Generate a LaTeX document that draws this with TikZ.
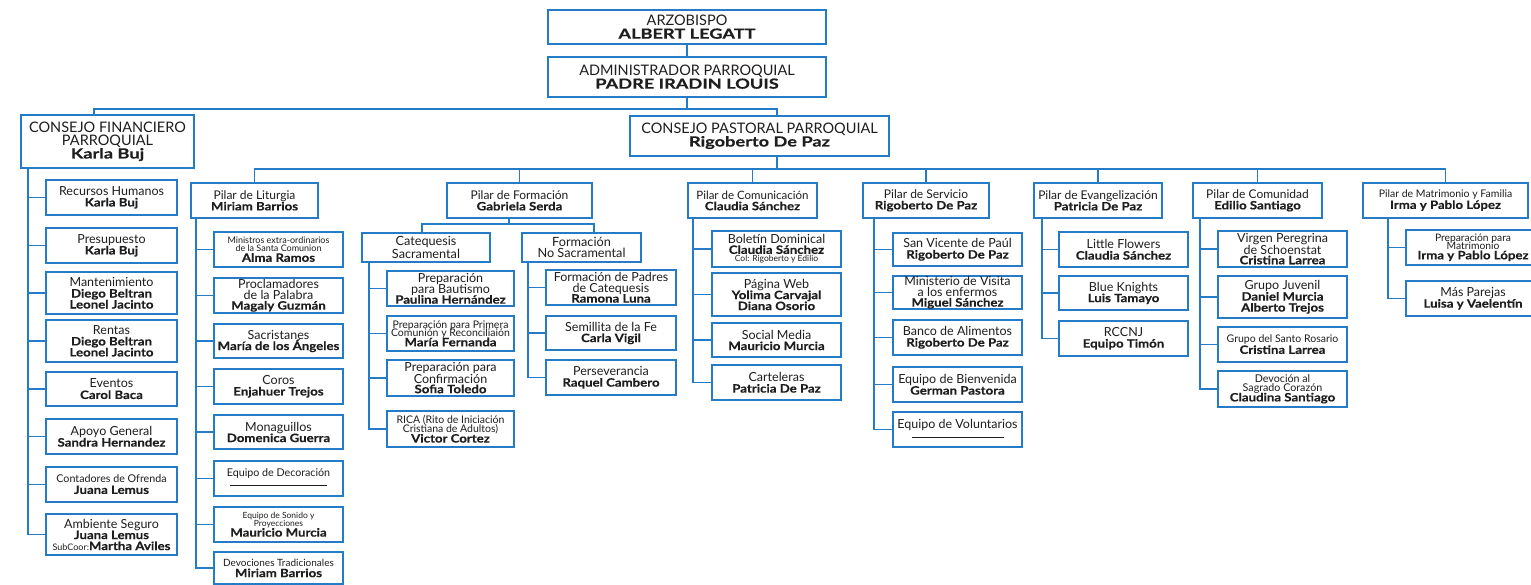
\documentclass[tikz,border=0pt]{standalone}
\usepackage{fontspec}
\setmainfont{Lato}
\newfontfamily\namefont{Lato}[FakeStretch=1.15,FakeBold=0.4]
\newfontfamily\topnamefont{Lato}[FakeStretch=1.3,FakeBold=0.4]
\definecolor{orgblue}{RGB}{36,124,200}
\definecolor{orgtext}{RGB}{30,30,30}
\newcommand{\sz}[1]{\fontsize{#1}{#1}\selectfont}
\newcommand{\nm}[1]{{\fontsize{11.5}{11}\namefont\bfseries #1}}
\newcommand{\tnm}[1]{{\fontsize{14}{13}\topnamefont\bfseries #1}}

\begin{document}
\begin{tikzpicture}[x=1pt,y=-1pt,
  box node/.style={draw=orgblue,line width=1.8pt,fill=white,text=orgtext,align=center,
    inner sep=0.5pt,font=\fontsize{12.5}{11}\selectfont},
  top node/.style={box node,font=\fontsize{14.5}{13}\selectfont},
  pilar node/.style={box node,minimum height=35,font=\fontsize{12}{11}\selectfont},
  conn/.style={draw=orgblue,line width=1.8pt}]

  \useasboundingbox (0,0) rectangle (1531,585);

  % top of the chart
  \node[top node,minimum width=278,minimum height=34] (arz) at (687,27) {ARZOBISPO\\\tnm{ALBERT LEGATT}};
  \node[top node,minimum width=278,minimum height=40] (adm) at (687,77) {ADMINISTRADOR PARROQUIAL\\\tnm{PADRE IRADIN LOUIS}};
  \node[top node,minimum width=173,minimum height=53] (cfin) at (107.5,141.5) {CONSEJO FINANCIERO\\PARROQUIAL\\\tnm{Karla Buj}};
  \node[top node,minimum width=259,minimum height=40] (cpas) at (759.5,136) {CONSEJO PASTORAL PARROQUIAL\\\tnm{Rigoberto De Paz}};

  % consejo financiero
  \node[box node,minimum width=131,minimum height=35] (rh) at (111.5,197.5) {Recursos Humanos\\\nm{Karla Buj}};
  \node[box node,minimum width=131,minimum height=35] (pre) at (111.5,245.5) {Presupuesto\\\nm{Karla Buj}};
  \node[box node,minimum width=131,minimum height=42] (man) at (111.5,293) {Mantenimiento\\\nm{Diego Beltran}\\\nm{Leonel Jacinto}};
  \node[box node,minimum width=131,minimum height=42] (ren) at (111.5,341) {Rentas\\\nm{Diego Beltran}\\\nm{Leonel Jacinto}};
  \node[box node,minimum width=131,minimum height=34] (eve) at (111.5,389) {Eventos\\\nm{Carol Baca}};
  \node[box node,minimum width=131,minimum height=35] (apo) at (111.5,436.5) {Apoyo General\\\nm{Sandra Hernandez}};
  \node[box node,minimum width=131,minimum height=35] (con) at (111.5,484.5) {{\sz{10.7}Contadores de Ofrenda}\\\nm{Juana Lemus}};
  \node[box node,minimum width=131,minimum height=41] (amb) at (111.5,534.5) {Ambiente Seguro\\\nm{Juana Lemus}\\{\sz{9}SubCoor:}\nm{Martha Aviles}};

  % pilares
  \node[pilar node,minimum width=127] (lit) at (254.5,200.5) {Pilar de Liturgia\\\nm{Miriam Barrios}};
  \node[pilar node,minimum width=145] (for) at (519.5,200.5) {Pilar de Formación\\\nm{Gabriela Serda}};
  \node[pilar node,minimum width=129] (com) at (752.5,200.5) {{\sz{11.5}Pilar de Comunicación}\\\nm{Claudia Sánchez}};
  \node[pilar node,minimum width=126] (ser) at (926,200.5) {Pilar de Servicio\\\nm{Rigoberto De Paz}};
  \node[pilar node,minimum width=128] (eva) at (1098,200.5) {Pilar de Evangelización\\\nm{Patricia De Paz}};
  \node[pilar node,minimum width=129] (cmd) at (1257.5,200.5) {Pilar de Comunidad\\\nm{Edilio Santiago}};
  \node[pilar node,minimum width=165] (mat) at (1445.5,200.5) {{\sz{10.5}Pilar de Matrimonio y Familia}\\\nm{Irma y Pablo López}};

  % liturgia
  \node[box node,minimum width=129,minimum height=35] (l1) at (278.5,249.5) {{\sz{9}Ministros extra-ordinarios}\\[-3pt]{\sz{9}de la Santa Comunion}\\[-1pt]\nm{Alma Ramos}};
  \node[box node,minimum width=129,minimum height=35] (l2) at (278.5,295.5) {Proclamadores\\de la Palabra\\[-1pt]\nm{Magaly Guzmán}};
  \node[box node,minimum width=129,minimum height=34] (l3) at (278.5,341) {Sacristanes\\\nm{María de los Ángeles}};
  \node[box node,minimum width=129,minimum height=35] (l4) at (278.5,386.5) {Coros\\\nm{Enjahuer Trejos}};
  \node[box node,minimum width=129,minimum height=34] (l5) at (278.5,432) {Monaguillos\\\nm{Domenica Guerra}};
  \node[box node,minimum width=129,minimum height=35] (l6) at (278.5,478.5) {{\sz{10.7}Equipo de Decoración}\\\rule[2pt]{97pt}{1pt}};
  \node[box node,minimum width=129,minimum height=35] (l7) at (278.5,524.5) {{\sz{8.5}Equipo de Sonido y}\\[-3pt]{\sz{8.5}Proyecciones}\\[-1pt]\nm{Mauricio Murcia}};
  \node[box node,minimum width=129,minimum height=32] (l8) at (278.5,568) {{\sz{10}Devociones Tradicionales}\\\nm{Miriam Barrios}};

  % formacion
  \node[box node,minimum width=128,minimum height=29,font=\fontsize{12.7}{11}\selectfont] (cat) at (426,247.5) {Catequesis\\Sacramental};
  \node[box node,minimum width=119,minimum height=29,font=\fontsize{12.7}{11}\selectfont] (nos) at (581.5,247.5) {Formación\\No Sacramental};
  \node[box node,minimum width=127,minimum height=35] (c1) at (450.5,288.5) {Preparación\\[-1pt]para Bautismo\\[-1pt]\nm{Paulina Hernández}};
  \node[box node,minimum width=127,minimum height=35] (c2) at (450.5,333.5) {{\sz{10.5}Preparación para Primera}\\[-3pt]{\sz{10.5}Comunión y Reconciliaión}\\[-1pt]\nm{María Fernanda}};
  \node[box node,minimum width=127,minimum height=36] (c3) at (450.5,378) {Preparación para\\[-1pt]Confirmación\\[-1pt]\nm{Sofia Toledo}};
  \node[box node,minimum width=127,minimum height=36] (c4) at (450.5,429) {{\sz{10.5}RICA (Rito de Iniciación}\\[-2pt]{\sz{10.5}Cristiana de Adultos)}\\[-1pt]\nm{Victor Cortez}};
  \node[box node,minimum width=130,minimum height=35] (n1) at (611,287.5) {Formación de Padres\\de Catequesis\\[-1pt]\nm{Ramona Luna}};
  \node[box node,minimum width=130,minimum height=34] (n2) at (611,333) {Semillita de la Fe\\\nm{Carla Vigil}};
  \node[box node,minimum width=130,minimum height=35] (n3) at (611,377.5) {Perseverancia\\\nm{Raquel Cambero}};

  % comunicacion
  \node[box node,minimum width=129,minimum height=36] (m1) at (776.5,249) {Boletín Dominical\\[-1pt]\nm{Claudia Sánchez}\\[-3pt]{\sz{8.5}Col: Rigoberto y Edilio}};
  \node[box node,minimum width=129,minimum height=43] (m2) at (776.5,294.5) {Página Web\\\nm{Yolima Carvajal}\\\nm{Diana Osorio}};
  \node[box node,minimum width=129,minimum height=34] (m3) at (776.5,340) {Social Media\\\nm{Mauricio Murcia}};
  \node[box node,minimum width=129,minimum height=35] (m4) at (776.5,382.5) {Carteleras\\\nm{Patricia De Paz}};

  % servicio
  \node[box node,minimum width=129,minimum height=33] (s1) at (957.5,249.5) {San Vicente de Paúl\\\nm{Rigoberto De Paz}};
  \node[box node,minimum width=129,minimum height=33] (s2) at (957.5,292.5) {Ministerio de Visita\\a los enfermos\\[-1pt]\nm{Miguel Sánchez}};
  \node[box node,minimum width=129,minimum height=35] (s3) at (957.5,337.5) {Banco de Alimentos\\\nm{Rigoberto De Paz}};
  \node[box node,minimum width=129,minimum height=35] (s4) at (957.5,384.5) {Equipo de Bienvenida\\\nm{German Pastora}};
  \node[box node,minimum width=129,minimum height=35] (s5) at (957.5,429.5) {Equipo de Voluntarios\\\rule[2pt]{92pt}{1pt}};

  % evangelizacion
  \node[box node,minimum width=129,minimum height=35] (e1) at (1123.5,249.5) {Little Flowers\\\nm{Claudia Sánchez}};
  \node[box node,minimum width=129,minimum height=34] (e2) at (1123.5,293) {Blue Knights\\\nm{Luis Tamayo}};
  \node[box node,minimum width=129,minimum height=35] (e3) at (1123.5,338.5) {RCCNJ\\\nm{Equipo Timón}};

  % comunidad
  \node[box node,minimum width=129,minimum height=36] (d1) at (1282.5,249) {Virgen Peregrina\\[-1pt]de Schoenstat\\[-1pt]\nm{Cristina Larrea}};
  \node[box node,minimum width=129,minimum height=42] (d2) at (1282.5,297) {Grupo Juvenil\\\nm{Daniel Murcia}\\\nm{Alberto Trejos}};
  \node[box node,minimum width=129,minimum height=35] (d3) at (1282.5,344.5) {{\sz{10.5}Grupo del Santo Rosario}\\\nm{Cristina Larrea}};
  \node[box node,minimum width=129,minimum height=36] (d4) at (1282.5,389) {{\sz{10.7}Devoción al}\\[-2pt]{\sz{10.7}Sagrado Corazón}\\[-1pt]\nm{Claudina Santiago}};

  % matrimonio y familia
  \node[box node,minimum width=134,minimum height=35] (f1) at (1473,247.5) {{\sz{10.3}Preparación para}\\[-3pt]{\sz{10.3}Matrimonio}\\[-1pt]\nm{Irma y Pablo López}};
  \node[box node,minimum width=134,minimum height=35] (f2) at (1473,298.5) {Más Parejas\\\nm{Luisa y Vaelentín}};

  % conectores
  \coordinate (top) at (687,109);
  \coordinate (mid) at (777,169);
  \coordinate (fsplit) at (509,224);
  \draw[conn] (arz) -- (adm);
  \draw[conn] (adm.south) -- (top);
  \draw[conn] ([xshift=-13.5]cfin.north) |- (top) -| ([xshift=17.5]cpas.north);
  \draw[conn] ([xshift=17.5]cpas.south) -- (mid);
  \draw[conn] (lit.north) |- (mid) -| (mat.north);
  \path[conn]
   (for.north) edge (for.north |- mid)
   (com.north) edge (com.north |- mid)
   (ser.north) edge (ser.north |- mid)
   (eva.north) edge (eva.north |- mid)
   (cmd.north) edge (cmd.north |- mid);
  \draw[conn] (for.south -| fsplit) -- (fsplit);
  \draw[conn] ([xshift=-4]cat.north) |- (fsplit) -| ([xshift=12.5]nos.north);

  \coordinate (fint) at ([xshift=8]cfin.south west);
  \draw[conn] (fint) |- (amb.west);
  \path[conn]
   (fint |- rh.west) edge (rh.west)
   (fint |- pre.west) edge (pre.west)
   (fint |- man.west) edge (man.west)
   (fint |- ren.west) edge (ren.west)
   (fint |- eve.west) edge (eve.west)
   (fint |- apo.west) edge (apo.west)
   (fint |- con.west) edge (con.west);

  \coordinate (litt) at ([xshift=6]lit.south west);
  \draw[conn] (litt) |- (l8.west);
  \path[conn]
   (litt |- l1.west) edge (l1.west)
   (litt |- l2.west) edge (l2.west)
   (litt |- l3.west) edge (l3.west)
   (litt |- l4.west) edge (l4.west)
   (litt |- l5.west) edge (l5.west)
   (litt |- l6.west) edge (l6.west)
   (litt |- l7.west) edge (l7.west);

  \coordinate (catt) at ([xshift=8]cat.south west);
  \draw[conn] (catt) |- (c4.west);
  \path[conn]
   (catt |- c1.west) edge (c1.west)
   (catt |- c2.west) edge (c2.west)
   (catt |- c3.west) edge (c3.west);

  \coordinate (nost) at ([xshift=7]nos.south west);
  \draw[conn] (nost) |- (n3.west);
  \path[conn]
   (nost |- n1.west) edge (n1.west)
   (nost |- n2.west) edge (n2.west);

  \coordinate (comt) at ([xshift=6]com.south west);
  \draw[conn] (comt) |- (m4.west);
  \path[conn]
   (comt |- m1.west) edge (m1.west)
   (comt |- m2.west) edge (m2.west)
   (comt |- m3.west) edge (m3.west);

  \coordinate (sert) at ([xshift=12]ser.south west);
  \draw[conn] (sert) |- (s5.west);
  \path[conn]
   (sert |- s1.west) edge (s1.west)
   (sert |- s2.west) edge (s2.west)
   (sert |- s3.west) edge (s3.west)
   (sert |- s4.west) edge (s4.west);

  \coordinate (evat) at ([xshift=9]eva.south west);
  \draw[conn] (evat) |- (e3.west);
  \path[conn]
   (evat |- e1.west) edge (e1.west)
   (evat |- e2.west) edge (e2.west);

  \coordinate (cmdt) at ([xshift=8]cmd.south west);
  \draw[conn] (cmdt) |- (d4.west);
  \path[conn]
   (cmdt |- d1.west) edge (d1.west)
   (cmdt |- d2.west) edge (d2.west)
   (cmdt |- d3.west) edge (d3.west);

  \coordinate (matt) at ([xshift=26]mat.south west);
  \draw[conn] (matt) |- (f2.west);
  \path[conn] (matt |- f1.west) edge (f1.west);
\end{tikzpicture}
\end{document}
